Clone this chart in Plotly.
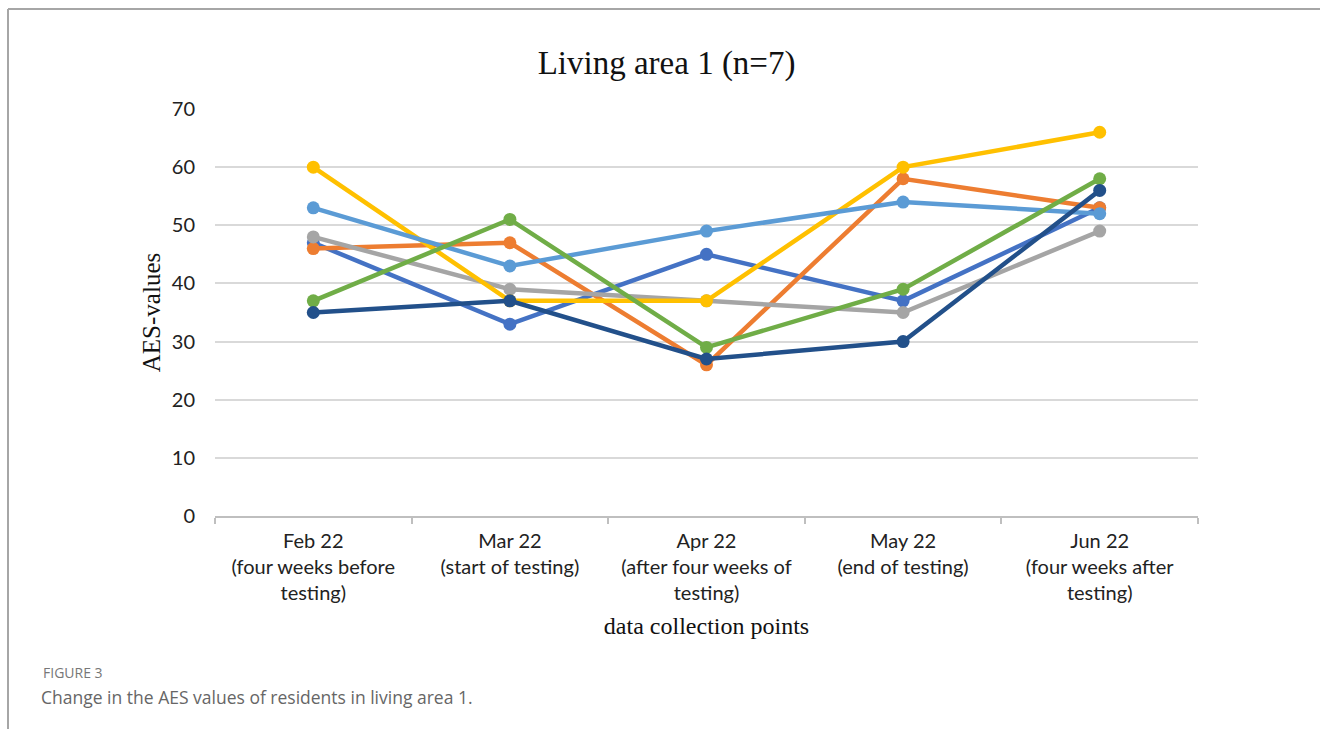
import plotly.graph_objects as go

# Data collection points (x categories)
categories = [
    "Feb 22<br>(four weeks before<br>testing)",
    "Mar 22<br>(start of testing)",
    "Apr 22<br>(after four weeks of<br>testing)",
    "May 22<br>(end of testing)",
    "Jun 22<br>(four weeks after<br>testing)",
]

# AES values per resident
resident_1 = [47, 33, 45, 37, 53]
resident_2 = [46, 47, 26, 58, 53]
resident_3 = [48, 39, 37, 35, 49]
resident_4 = [60, 37, 37, 60, 66]
resident_5 = [53, 43, 49, 54, 52]
resident_6 = [37, 51, 29, 39, 58]
resident_7 = [35, 37, 27, 30, 56]

series = [resident_1, resident_2, resident_3, resident_4,
          resident_5, resident_6, resident_7]
colors = ["#4472C4", "#ED7D31", "#A5A5A5", "#FFC000",
          "#5B9BD5", "#70AD47", "#22508A"]

y_ticks = [0, 10, 20, 30, 40, 50, 60, 70]

fig = go.Figure()
for i, (vals, col) in enumerate(zip(series, colors)):
    fig.add_trace(go.Scatter(
        x=categories, y=vals, mode="lines+markers",
        name=f"Resident {i + 1}",
        line=dict(color=col, width=4.5),
        marker=dict(color=col, size=13),
        showlegend=False,
    ))

serif = "Liberation Serif, Times New Roman, serif"
sans = "Lato, Open Sans, sans-serif"

fig.update_layout(
    width=1320, height=729,
    margin=dict(l=215, r=122, t=109, b=213),
    paper_bgcolor="white", plot_bgcolor="white",
    title=dict(text="Living area 1 (n=7)", x=0.505, xanchor="center",
               y=0.915, yanchor="middle",
               font=dict(family=serif, size=33, color="#111")),
    xaxis=dict(
        type="category", range=[-0.5, 4.5],
        tickson="boundaries", ticks="outside", ticklen=6,
        tickcolor="#bfbfbf", tickwidth=1.5,
        showline=True, linecolor="#bfbfbf", linewidth=2,
        showgrid=False, ticklabelstandoff=6,
        tickfont=dict(family=sans, size=20, color="#222"),
        title=dict(text="data collection points", standoff=14,
                   font=dict(family=serif, size=24, color="#111")),
    ),
    yaxis=dict(
        range=[0, 70], tickvals=y_ticks, showgrid=True,
        gridcolor="#d9d9d9", gridwidth=2, zeroline=False,
        showline=False, ticks="", ticklabelstandoff=19,
        tickfont=dict(family=sans, size=20, color="#222"),
        title=dict(text="AES-values", standoff=4,
                   font=dict(family=serif, size=25, color="#111")),
    ),
)

# Page frame lines and caption
fig.add_shape(type="line", xref="paper", yref="paper",
              x0=-215 / 983 + 8 / 983, x1=-215 / 983 + 8 / 983,
              y0=-213 / 407, y1=(729 - 9 - 213) / 407,
              line=dict(color="#a6a6a6", width=2))
fig.add_shape(type="line", xref="paper", yref="paper",
              x0=-215 / 983 + 8 / 983, x1=(1320 - 215) / 983,
              y0=(729 - 9 - 213) / 407, y1=(729 - 9 - 213) / 407,
              line=dict(color="#a6a6a6", width=2))

fig.add_annotation(text="FIGURE 3", xref="paper", yref="paper",
                   x=(41 - 215) / 983, y=(516 - 672) / 407,
                   xanchor="left", yanchor="middle", showarrow=False,
                   font=dict(family="Open Sans, sans-serif", size=14, color="#777"))
fig.add_annotation(text="Change in the AES values of residents in living area 1.",
                   xref="paper", yref="paper",
                   x=(39 - 215) / 983, y=(516 - 697) / 407,
                   xanchor="left", yanchor="middle", showarrow=False,
                   font=dict(family="Open Sans, sans-serif", size=17.5, color="#666"))

fig.write_html("out.html")
